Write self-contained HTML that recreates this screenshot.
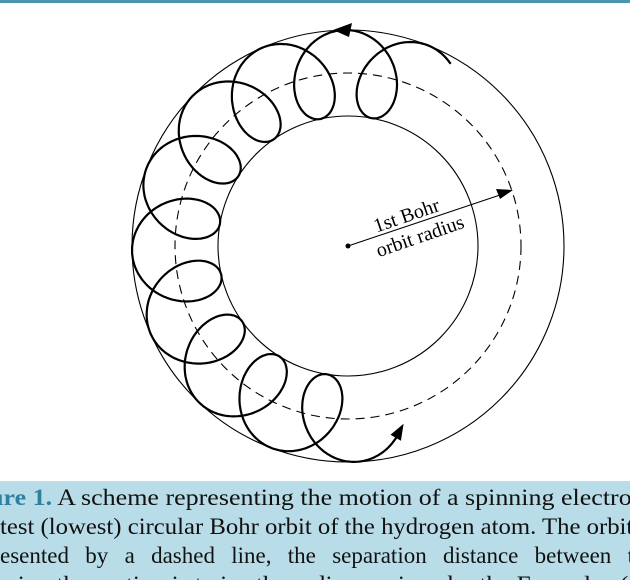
<!DOCTYPE html>
<html><head><meta charset="utf-8"><style>
html,body{margin:0;padding:0;background:#fff;}
body{width:630px;height:580px;position:relative;overflow:hidden;font-family:"Liberation Serif",serif;}
.top{position:absolute;left:0;top:0;width:630px;height:3px;background:#4a96b0;}
.cap{position:absolute;left:0;top:481px;width:630px;height:99px;background:#b9dde8;overflow:hidden;}
.ln{position:absolute;white-space:nowrap;font-size:23px;color:#111;line-height:29px;transform-origin:0 0;}
.j{text-align:justify;text-align-last:justify;white-space:normal;}
b{color:#2f7fa0;}
</style></head><body>
<div class="top"></div>
<svg id="s" width="630" height="480" style="position:absolute;left:0;top:0">
<circle cx="348" cy="246" r="216" fill="none" stroke="#000" stroke-width="1.1"/>
<circle cx="348" cy="246" r="130" fill="none" stroke="#000" stroke-width="1.1"/>
<circle cx="348" cy="246" r="173" fill="none" stroke="#000" stroke-width="1.1" stroke-dasharray="9,6"/>
<path id="p" fill="none" stroke="#000" stroke-width="2.2"/>
<polygon id="ah" fill="#000"/>
<polygon points="333,30 352,23 349,37" fill="#000"/>
<circle cx="348" cy="246" r="2.5" fill="#000"/>
<line x1="348" y1="246" x2="500" y2="195" stroke="#000" stroke-width="1.1"/>
<polygon points="513,190 496,189 500,199" fill="#000"/>
<g transform="translate(414,225) rotate(-19)" font-size="20" font-family="Liberation Serif,serif" text-anchor="middle">
<text x="-4" y="-5">1st Bohr</text>
<text x="2" y="19">orbit radius</text>
</g>
</svg>
<div class="cap">
<div class="ln" style="left:-47px;top:2px;transform:scaleX(1.13)"><b style="font-weight:bold">Figure 1.</b> A scheme representing the motion of a spinning electron in the</div>
<div class="ln" style="left:0px;top:31px;transform:scaleX(1.075)">test (lowest) circular Bohr orbit of the hydrogen atom. The orbit is</div>
<div class="ln j" style="left:0px;top:60px;width:634px">esented by a dashed line, the separation distance between t</div>
<div class="ln" style="left:-2px;top:89px;transform:scaleX(1.1)">ssing the motion is twice the radius a, given by the Formulae (</div>
</div>
<script>
(function(){
var cx=348,cy=246,Rd=173,a=43,b=34,k=15.9,d=Math.PI/180;
var f0=-66,f1=-276.4,pts=[],P=[];
for(var i=0;i<=1400;i++){
 var f=f0+(f1-f0)*i/1400, fr=f*d;
 var psi=k*(f+272)*d;
 var ux=Math.cos(fr),uy=Math.sin(fr),tx=-uy,ty=ux;
 var rr=Rd+a*Math.cos(psi),tt=b*Math.sin(psi);
 var x=cx+rr*ux+tt*tx,y=cy+rr*uy+tt*ty;
 P.push([x,y]);
 pts.push(x.toFixed(1)+","+y.toFixed(1));
}
document.getElementById('p').setAttribute('d','M'+pts.join(' L'));
var e=P[P.length-1],q=P[P.length-8];
var dx=e[0]-q[0],dy=e[1]-q[1],L=Math.hypot(dx,dy);dx/=L;dy/=L;
var tip=[e[0]+dx*6,e[1]+dy*6],bx=e[0]-dx*10,by=e[1]-dy*10;
var h=[tip[0].toFixed(1)+","+tip[1].toFixed(1),(bx-dy*6).toFixed(1)+","+(by+dx*6).toFixed(1),(bx+dy*6).toFixed(1)+","+(by-dx*6).toFixed(1)];
document.getElementById('ah').setAttribute('points',h.join(' '));
})();
</script>
</body></html>
